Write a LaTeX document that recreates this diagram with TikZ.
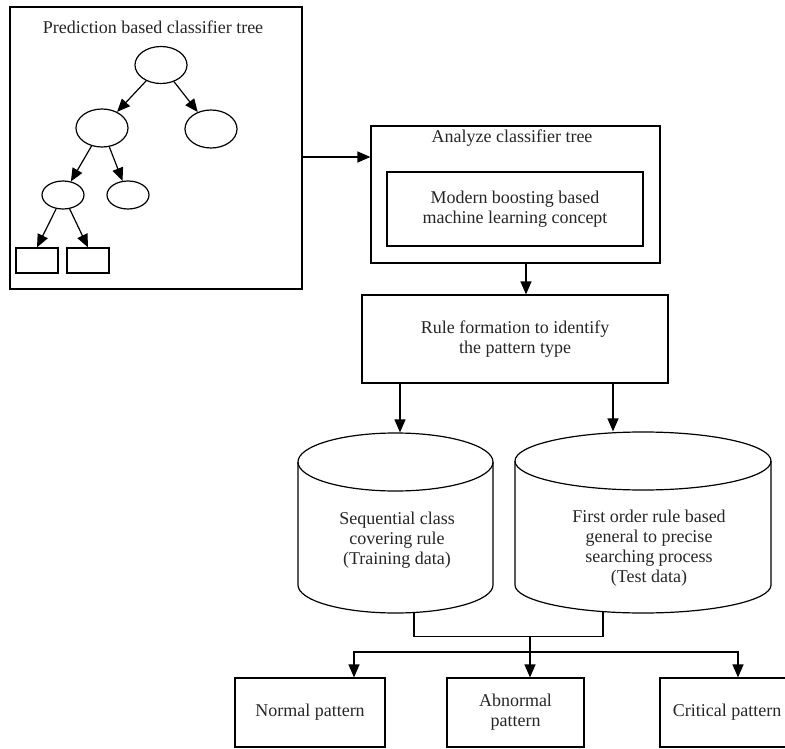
\documentclass[tikz,border=0pt]{standalone}
\usepackage{fontspec}
\setmainfont{Liberation Serif}
\usetikzlibrary{arrows.meta,shapes.geometric}
\begin{document}
\begin{tikzpicture}[x=1pt,y=-1pt,
  line width=1.2pt,
  every node/.style={font=\fontsize{18}{20}\selectfont, align=center, inner sep=0pt, text=black!85},
  box/.style={draw, rectangle},
  tnode/.style={draw, ellipse},
  arr/.style={-{Triangle[length=13pt,width=11pt]}},
]
\useasboundingbox (0,0) rectangle (785,749);
\clip (0,0) rectangle (785,749);

% left tree box
\node[box, minimum width=292pt, minimum height=282pt] (treebox) at (156,148) {};
\node (treetitle) at (153,27) {Prediction based classifier tree};
\node[tnode, minimum width=52pt, minimum height=37pt] (root) at (161,65) {};
\node[tnode, minimum width=52pt, minimum height=38pt] (c1) at (102,128) {};
\node[tnode, minimum width=52pt, minimum height=38pt] (c2) at (211,129) {};
\node[tnode, minimum width=42pt, minimum height=28pt] (c3) at (63,195) {};
\node[tnode, minimum width=42pt, minimum height=28pt] (c4) at (128,195) {};
\node[box, minimum width=42pt, minimum height=25pt] (l1) at (37,260.5) {};
\node[box, minimum width=42pt, minimum height=25pt] (l2) at (88,260.5) {};
\draw[arr] (root) -- (c1);
\draw[arr] (root) -- (c2);
\draw[arr] (c1) -- (c3);
\draw[arr] (c1) -- (c4);
\draw[arr] (c3) -- (l1.north);
\draw[arr] (c3) -- (l2.north);

% analyze box
\node[box, minimum width=289pt, minimum height=137pt] (analyze) at (515.5,194.5) {};
\node (antitle) at (512,138) {Analyze classifier tree};
\node[box, minimum width=256pt, minimum height=74pt] (modern) at (515,209) {Modern boosting based\\machine learning concept};

% rule box
\node[box, minimum width=306pt, minimum height=88pt] (rule) at (515,339) {Rule formation to identify\\the pattern type};

% cylinders
\node[minimum width=195pt, minimum height=180pt] (cyl1) at (395.5,523) {};
\draw (395.5,462) ellipse [x radius=97.5pt, y radius=29pt];
\draw (298,462) -- (298,585) arc[start angle=180, end angle=360, x radius=97.5pt, y radius=28pt] -- (493,462);
\node (cyl1txt) at (397,540) {Sequential class\\covering rule\\(Training data)};

\node[minimum width=256pt, minimum height=181pt] (cyl2) at (643,522.5) {};
\draw (643,461) ellipse [x radius=128pt, y radius=29pt];
\draw (515,461) -- (515,585) arc[start angle=180, end angle=360, x radius=128pt, y radius=28pt] -- (771,461);
\node (cyl2txt) at (649,548) {First order rule based\\general to precise\\searching process\\(Test data)};

% bottom boxes
\node[box, minimum width=150pt, minimum height=69pt] (normal) at (310,712.5) {Normal pattern};
\node[box, minimum width=137pt, minimum height=69pt] (abn) at (515.5,712.5) {Abnormal\\pattern};
\node[box, minimum width=134pt, minimum height=69pt] (crit) at (727,712.5) {Critical pattern};

% connectors
\path ([yshift=-9pt]treebox.east) coordinate (p);
\draw[arr] (p) -- (p -| analyze.west);
\path ([xshift=10.5pt]analyze.south) coordinate (q);
\draw[arr] (q) -- (q |- rule.north);
\path ([xshift=-115pt]rule.south) coordinate (r1);
\draw[arr] (r1) -- (r1 |- cyl1.north);
\path ([xshift=98pt]rule.south) coordinate (r2);
\draw[arr] (r2) -- (r2 |- cyl2.north);
\draw ([xshift=18.5pt,yshift=0.5pt]cyl1.south) -- ++(0,23) -| ([xshift=-40pt,yshift=1.4pt]cyl2.south);
\coordinate (m) at (530,636);
\coordinate (h) at (530,652);
\draw[arr] (m) -- (m |- abn.north);
\draw[arr] (h) -| ([xshift=44pt]normal.north);
\draw[arr] (h) -| ([xshift=11pt]crit.north);
\end{tikzpicture}
\end{document}
